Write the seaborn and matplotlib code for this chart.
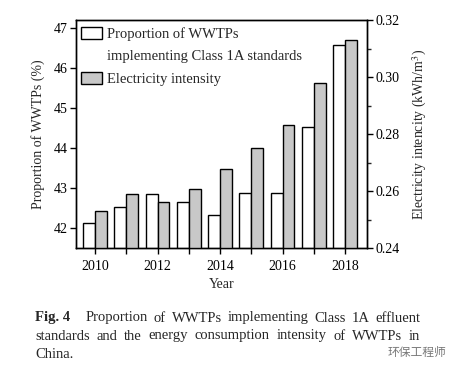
import numpy as np
import pandas as pd
import matplotlib
matplotlib.use("Agg")
import matplotlib.pyplot as plt
from matplotlib.patches import Patch
import seaborn as sns

# values
years = [2010, 2011, 2012, 2013, 2014, 2015, 2016, 2017, 2018]
proportion = [42.12, 42.53, 42.84, 42.65, 42.33, 42.88, 42.87, 44.53, 46.57]
electricity = [0.2531, 0.2588, 0.2560, 0.2608, 0.2678, 0.2751, 0.2830, 0.2980, 0.3131]
year_labels = ["2010", "", "2012", "", "2014", "", "2016", "", "2018"]

sns.set_style("ticks")
plt.rcParams['font.family'] = ['Liberation Serif', 'DejaVu Serif']
plt.rcParams['mathtext.fontset'] = 'stix'

df = pd.DataFrame({'Year': years, 'Proportion': proportion, 'Electricity': electricity})
bw = 0.38
df['x_left'] = df['Year'] - bw / 2
df['x_right'] = df['Year'] + bw / 2

W, H = 457, 373
fig = plt.figure(figsize=(W / 100, H / 100), dpi=100)
ax = fig.add_axes([76 / W, 1 - 248 / H, 291 / W, 228 / H])
ax2 = ax.twinx()

sns.barplot(data=df, x='x_left', y='Proportion', native_scale=True, width=bw,
            color='white', edgecolor='black', linewidth=1, saturation=1, ax=ax)
sns.barplot(data=df, x='x_right', y='Electricity', native_scale=True, width=bw,
            color='#c8c8c8', edgecolor='black', linewidth=1, saturation=1, ax=ax2)

ax.set_xlim(2009.39, 2018.70)
ax.set_ylim(41.5, 47.2)
ax2.set_ylim(0.24, 0.32)
ax.set_xticks(years)
ax.set_xticklabels(year_labels)
ax.set_yticks([42, 43, 44, 45, 46, 47])
ax2.set_yticks([0.24, 0.26, 0.28, 0.30, 0.32])
ax2.set_yticks([0.25, 0.27, 0.29, 0.31], minor=True)
ax2.set_yticklabels(["0.24", "0.26", "0.28", "0.30", "0.32"])

for a in (ax, ax2):
    a.tick_params(axis='both', which='major', direction='out', length=4, width=1,
                  labelsize=10, colors='black', pad=2)
    a.tick_params(axis='y', which='minor', direction='out', length=3, width=1)
    for s in a.spines.values():
        s.set_visible(True)
        s.set_linewidth(1)
        s.set_color('black')
ax.tick_params(axis='x', pad=5)

ax.set_xlabel("Year", fontsize=10, labelpad=3)
ax.set_ylabel("Proportion of WWTPs (%)", fontsize=10, labelpad=6)
ax2.set_ylabel("Electricity intencity (kWh/m$^3$)", fontsize=10, labelpad=8)
ax2.set_xlabel("")

# legend: first label spans two lines, handle sits on the first line
handles = [Patch(facecolor='white', edgecolor='black', linewidth=1),
           Patch(facecolor='none', edgecolor='none'),
           Patch(facecolor='#c8c8c8', edgecolor='black', linewidth=1)]
labels = ["Proportion of WWTPs", "implementing Class 1A standards", "Electricity intensity"]
ax.legend(handles, labels, loc='upper left', bbox_to_anchor=(5 / 291, 1 - 7 / 228),
          frameon=False, fontsize=10.5, handlelength=1.45, handleheight=0.85,
          handletextpad=0.3, borderaxespad=0, borderpad=0, labelspacing=0.6)

# caption, justified lines
renderer = fig.canvas.get_renderer()


def justify(words, x0, x1, y, **kw):
    texts = [fig.text(0, y, w, va='center', **kw) for w in words]
    widths = [t.get_window_extent(renderer).width for t in texts]
    gap = (x1 - x0 - sum(widths)) / (len(words) - 1)
    x = x0
    for t, w in zip(texts, widths):
        t.set_x(x / W)
        x += w + gap


cap_fs = 10.5
fig.text(35 / W, 1 - 318 / H, "Fig. 4", fontsize=cap_fs, fontweight='bold', va='center')
justify("Proportion of WWTPs implementing Class 1A effluent".split(),
        86, 420, 1 - 318 / H, fontsize=cap_fs)
justify("standards and the energy consumption intensity of WWTPs in".split(),
        35, 420, 1 - 336 / H, fontsize=cap_fs)
fig.text(35 / W, 1 - 355 / H, "China.", fontsize=cap_fs, va='center')
fig.text(388 / W, 1 - 352 / H, "环保工程师", fontsize=8.5, color='#777777', va='center',
         family=['Noto Sans CJK SC', 'DejaVu Sans'])

fig.savefig("out.png", dpi=100, facecolor='white')
